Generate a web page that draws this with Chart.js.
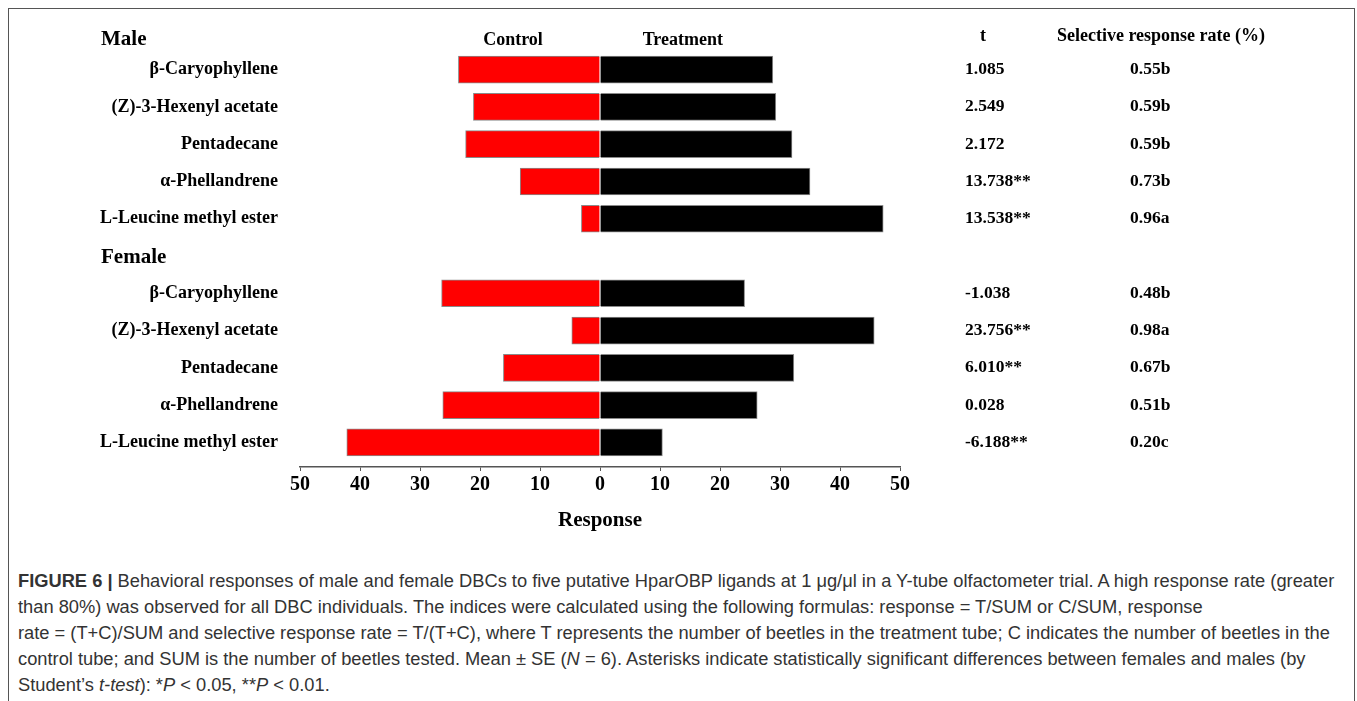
<!DOCTYPE html>
<html>
<head>
<meta charset="utf-8">
<script src="https://cdn.jsdelivr.net/npm/chart.js@4.4.1/dist/chart.umd.min.js"></script>
<style>
    html, body { margin: 0; padding: 0; background: #fff; }
    body { width: 1357px; height: 701px; position: relative; overflow: hidden; }
    #frame { position: absolute; left: 8px; top: 8px; width: 1347px; height: 720px; border: 1px solid #555; box-sizing: border-box; }
    #wrap { position: absolute; left: 0; top: 0; width: 1357px; height: 545px; }
    #caption {
        position: absolute; left: 18px; top: 568px;
        font-family: 'Liberation Sans', Arial, sans-serif; font-size: 18.3px; line-height: 26px;
        color: #333; white-space: nowrap;
    }
</style>
</head>
<body>
<div id="frame"></div>
<div id="wrap"><canvas id="chart" width="1357" height="545"></canvas></div>
<div id="caption"><b>FIGURE 6 |</b> Behavioral responses of male and female DBCs to five putative HparOBP ligands at 1 μg/μl in a Y-tube olfactometer trial. A high response rate (greater<br>than 80%) was observed for all DBC individuals. The indices were calculated using the following formulas: response = T/SUM or C/SUM, response<br>rate = (T+C)/SUM and selective response rate = T/(T+C), where T represents the number of beetles in the treatment tube; C indicates the number of beetles in the<br>control tube; and SUM is the number of beetles tested. Mean ± SE (<i>N</i> = 6). Asterisks indicate statistically significant differences between females and males (by<br>Student’s <i>t-test</i>): *<i>P</i> &lt; 0.05, **<i>P</i> &lt; 0.01.</div>
<script>
// Ligands (same order for both sexes)
const ligands = ['β-Caryophyllene', '(Z)-3-Hexenyl acetate', 'Pentadecane', 'α-Phellandrene', 'L-Leucine methyl ester'];

// Response values (control drawn to the left)
const maleControl = [23.6, 21.1, 22.4, 13.3, 3.1];
const maleTreatment = [28.8, 29.3, 32.0, 35.0, 47.2];
const femaleControl = [26.4, 4.7, 16.1, 26.2, 42.2];
const femaleTreatment = [24.1, 45.7, 32.3, 26.2, 10.4];

// Table columns on the right
const maleT = ['1.085', '2.549', '2.172', '13.738**', '13.538**'];
const femaleT = ['-1.038', '23.756**', '6.010**', '0.028', '-6.188**'];
const maleRate = ['0.55b', '0.59b', '0.59b', '0.73b', '0.96a'];
const femaleRate = ['0.48b', '0.98a', '0.67b', '0.51b', '0.20c'];

// Axis ticks
const xTicks = [-50, -40, -30, -20, -10, 0, 10, 20, 30, 40, 50];

// Row layout: male rows 0-4, "Female" heading row 5, female rows 6-10
const femaleHeadRow = 5;
const maleRows = ligands.map((_, i) => i);
const femaleRows = ligands.map((_, i) => i + femaleHeadRow + 1);
const rowLabels = [...ligands, '', ...ligands];

const serif = '"Liberation Serif", "Times New Roman", serif';

const controlData = [
    ...maleRows.map((r, i) => ({ x: -maleControl[i], y: r })),
    ...femaleRows.map((r, i) => ({ x: -femaleControl[i], y: r }))
];
const treatmentData = [
    ...maleRows.map((r, i) => ({ x: maleTreatment[i], y: r })),
    ...femaleRows.map((r, i) => ({ x: femaleTreatment[i], y: r }))
];

const sideText = {
    id: 'sideText',
    afterDraw(chart) {
        const { ctx, chartArea, scales: { x, y } } = chart;
        const headY = chartArea.top - 11;
        ctx.save();
        ctx.fillStyle = '#000';
        ctx.textBaseline = 'middle';

        ctx.font = 'bold 21px ' + serif;
        ctx.textAlign = 'left';
        ctx.fillText('Male', 101, headY);
        ctx.fillText('Female', 101, y.getPixelForValue(femaleHeadRow) + 2);

        ctx.font = 'bold 18px ' + serif;
        ctx.textAlign = 'center';
        ctx.fillText('Control', x.getPixelForValue(-14.5), headY);
        ctx.fillText('Treatment', x.getPixelForValue(13.8), headY);
        ctx.fillText('t', 983, headY - 4);
        ctx.fillText('Selective response rate (%)', 1161, headY - 4);

        ctx.font = 'bold 17.5px ' + serif;
        ctx.textAlign = 'left';
        maleRows.forEach((r, i) => {
            const py = y.getPixelForValue(r);
            ctx.fillText(maleT[i], 965, py);
            ctx.fillText(maleRate[i], 1130, py);
        });
        femaleRows.forEach((r, i) => {
            const py = y.getPixelForValue(r);
            ctx.fillText(femaleT[i], 965, py);
            ctx.fillText(femaleRate[i], 1130, py);
        });
        ctx.restore();
    }
};

new Chart(document.getElementById('chart'), {
    type: 'bar',
    data: {
        datasets: [
            {
                label: 'Control',
                data: controlData,
                backgroundColor: '#ff0000',
                borderColor: '#8a8a8a',
                borderWidth: 1,
                barThickness: 27
            },
            {
                label: 'Treatment',
                data: treatmentData,
                backgroundColor: '#000000',
                borderColor: '#8a8a8a',
                borderWidth: 1,
                barThickness: 27
            }
        ]
    },
    options: {
        indexAxis: 'y',
        responsive: false,
        animation: false,
        layout: { padding: { top: 51, left: 0, right: 457, bottom: 0 } },
        plugins: {
            legend: { display: false },
            tooltip: { enabled: false }
        },
        scales: {
            x: {
                type: 'linear',
                stacked: true,
                min: -50,
                max: 50,
                afterBuildTicks: (scale) => { scale.ticks = xTicks.map(v => ({ value: v })); },
                afterFit: (scale) => { scale.height = 78; },
                grid: { drawOnChartArea: false, drawTicks: true, tickLength: 4, color: '#555', lineWidth: 1 },
                border: { display: true, color: '#555', width: 1.5 },
                ticks: {
                    color: '#000',
                    padding: 2,
                    maxRotation: 0,
                    font: { family: serif, size: 20, weight: 'bold' },
                    callback: (v) => Math.abs(v)
                },
                title: {
                    display: true,
                    text: 'Response',
                    color: '#000',
                    padding: { top: 0, bottom: 11.5 },
                    font: { family: serif, size: 21, weight: 'bold' }
                }
            },
            y: {
                type: 'linear',
                stacked: true,
                reverse: true,
                offset: false,
                bounds: 'data',
                min: -0.5,
                max: 10.66,
                afterBuildTicks: (scale) => { scale.ticks = rowLabels.map((_, i) => ({ value: i })); },
                afterFit: (scale) => { scale.width = 300; },
                grid: { display: false, drawTicks: false },
                border: { display: false },
                ticks: {
                    color: '#000',
                    padding: 22,
                    autoSkip: false,
                    font: { family: serif, size: 18, weight: 'bold' },
                    callback: (v) => rowLabels[v] || ''
                }
            }
        }
    },
    plugins: [sideText]
});
</script>
</body>
</html>
